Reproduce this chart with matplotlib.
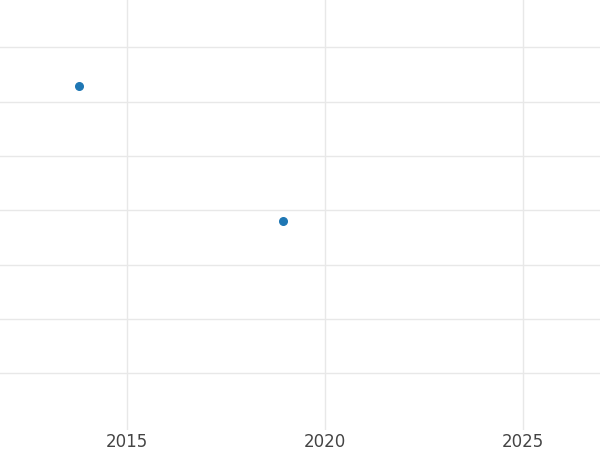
import matplotlib
matplotlib.use("Agg")
import matplotlib.pyplot as plt

years = [2013.79, 2018.94]
values = [5.29, 2.8]

fig = plt.figure(figsize=(6, 4.5), dpi=100)
ax = fig.add_axes([0, 0.044, 1, 0.956])
ax.scatter(years, values, s=30, color="#1f77b4", zorder=3)
ax.set_xlim(2011.79, 2026.94)
ax.set_ylim(-1.05, 6.87)
ax.set_xticks([2015, 2020, 2025])
ax.set_yticks(range(0, 7))
ax.set_yticklabels([])
ax.grid(True, color="#e8e8e8", linewidth=1)
ax.tick_params(length=0, labelsize=12, labelcolor="#444444", pad=2)
for s in ax.spines.values():
    s.set_visible(False)
fig.savefig("out.png")
